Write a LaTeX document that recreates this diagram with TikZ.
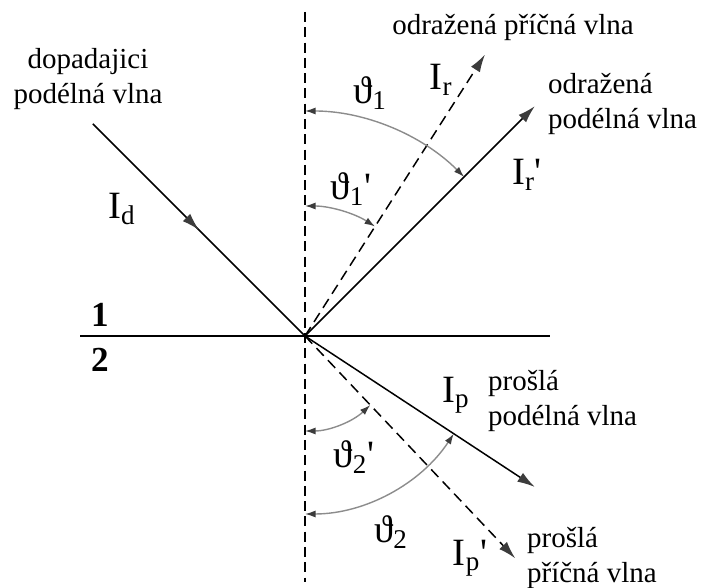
\documentclass[tikz,border=0pt]{standalone}
\usepackage{fontspec}
\setmainfont{Liberation Serif}
\usetikzlibrary{arrows.meta, decorations.markings, calc}
\definecolor{tipgray}{HTML}{3C3C3C}
\definecolor{arcgray}{HTML}{8C8C8C}
\newcommand{\prm}{\textquotesingle}

\begin{document}
\begin{tikzpicture}[
    x=0.02cm, y=0.02cm,
    every node/.style={font=\fontsize{16.5}{19.5}\selectfont, inner sep=1pt},
    sym/.style={font=\fontsize{22}{26}\selectfont},
    ray/.style={line width=0.85pt, -{Latex[length=10pt,width=6pt,color=tipgray]}},
    dashray/.style={ray, dash pattern=on 6pt off 3.5pt},
    normal/.style={line width=0.85pt, dash pattern=on 5.7pt off 3pt},
    angarc/.style={line width=0.8pt, draw=arcgray,
                   {Latex[length=6pt,width=4pt,color=tipgray]}-{Latex[length=6pt,width=4pt,color=tipgray]}},
    wave/.style={align=left, anchor=west},
  ]
    \useasboundingbox (0,0) rectangle (705,587);

    \coordinate (O) at (305,251);
    \coordinate (ntop) at (305,575);
    \coordinate (nbot) at (305,5);
    \coordinate (ifl) at (80,251);
    \coordinate (ifr) at (550,251);
    \coordinate (inc) at ($(O)+(135:300)$);
    \coordinate (reflL) at ($(O)+(45:325)$);
    \coordinate (reflT) at ($(O)+(57.4:334)$);
    \coordinate (transL) at ($(O)+(-33.3:275)$);
    \coordinate (transT) at ($(O)+(-46.6:306)$);

    % normal and interface
    \draw[normal] (ntop) -- (nbot);
    \draw[line width=1.7pt] (ifl) -- (ifr);
    \node[font=\fontsize{20}{24}\selectfont\bfseries] (m1) at (100,272) {1};
    \node[font=\fontsize{20}{24}\selectfont\bfseries] (m2) at (100,227) {2};

    % waves
    \draw[line width=0.85pt, postaction={decorate}, decoration={markings,
          mark=at position 0.5 with {\arrow{Latex[length=10pt,width=6pt,color=tipgray]}}}]
      (inc) -- (O);
    \draw[ray] (O) -- (reflL);
    \draw[dashray] (O) -- (reflT);
    \draw[ray] (O) -- (transL);
    \draw[dashray] (O) -- (transT);

    % angles
    \draw[angarc] ($(O)+(90:225)$) arc[start angle=90, end angle=45, radius=225];
    \draw[angarc] ($(O)+(90:130)$) arc[start angle=90, end angle=57.4, radius=130];
    \draw[angarc] ($(O)+(-90:95)$) arc[start angle=-90, end angle=-46.6, radius=95];
    \draw[angarc] ($(O)+(-90:178)$) arc[start angle=-90, end angle=-33.3, radius=178];

    \node[sym] (th1) at (370,494) {ϑ\textsubscript{1}};
    \node[sym] (th1p) at (351,398) {ϑ\textsubscript{1}\prm};
    \node[sym] (th2p) at (354,130) {ϑ\textsubscript{2}\prm};
    \node[sym] (th2) at (391,55) {ϑ\textsubscript{2}};

    % labels
    \node[align=center] (incl) at (88,508) {dopadajici\\podélná vlna};
    \node[sym] (Id) at (122,378) {I\textsubscript{d}};
    \node (reflTl) at (513,559) {odražená příčná vlna};
    \node[sym] (Ir) at (441,507) {I\textsubscript{r}};
    \node[wave] (reflLl) at (546,483) {odražená\\podélná vlna};
    \node[sym] (Irp) at (527,412) {I\textsubscript{r}\prm};
    \node[sym] (Ip) at (456,192) {I\textsubscript{p}};
    \node[wave] (transLl) at (486,186) {prošlá\\podélná vlna};
    \node[sym] (Ipp) at (470,29) {I\textsubscript{p}\prm};
    \node[wave] (transTl) at (525,29) {prošlá\\příčná vlna};
\end{tikzpicture}
\end{document}
